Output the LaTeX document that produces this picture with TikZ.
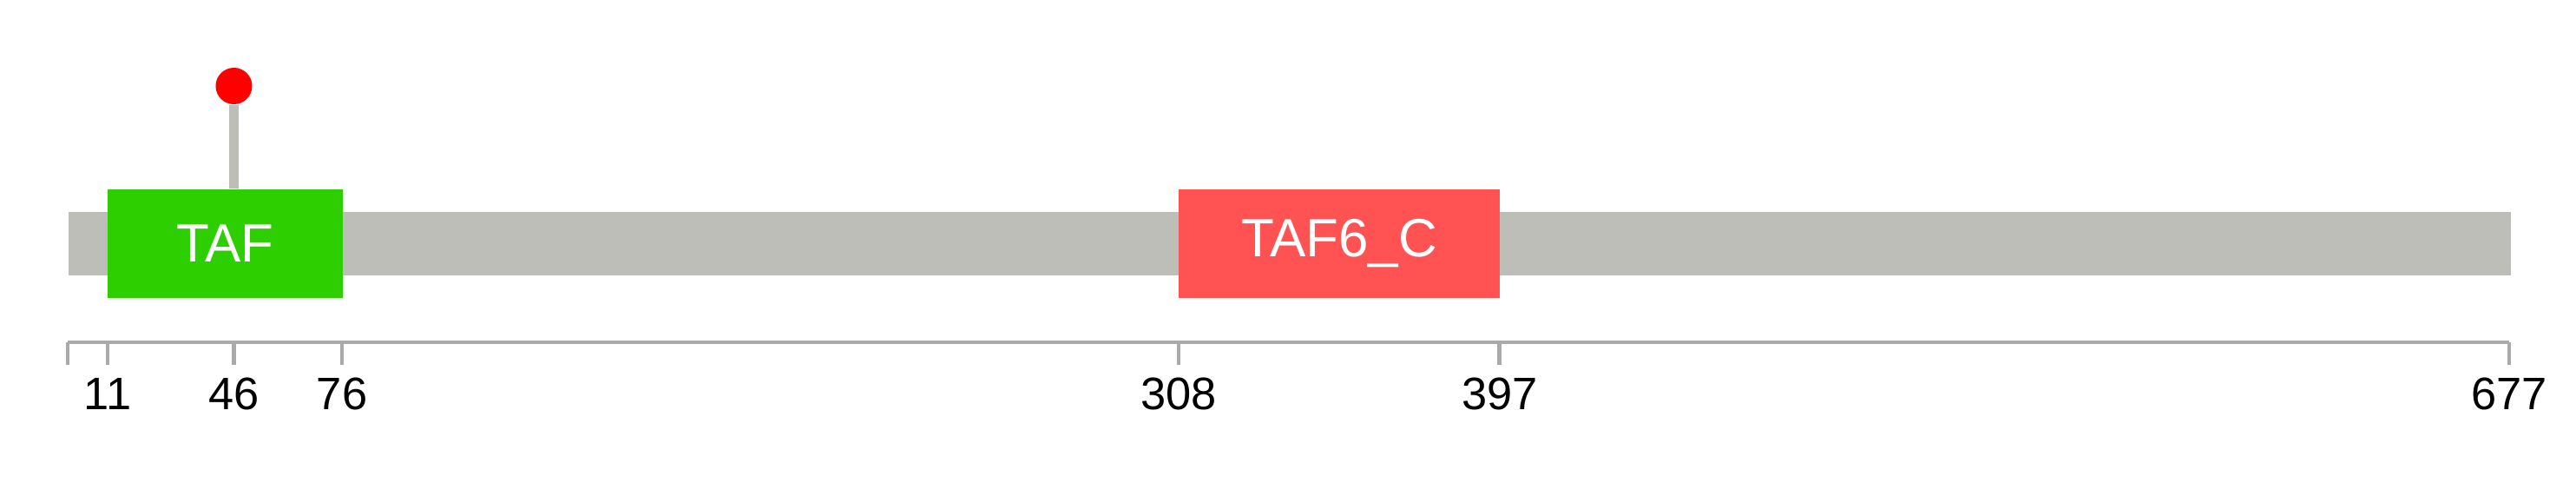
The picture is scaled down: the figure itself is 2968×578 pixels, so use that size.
\documentclass[tikz,border=0pt]{standalone}
\usepackage{fontspec}
\setmainfont{Liberation Sans}
\usepackage{tikz}
\usetikzlibrary{positioning,calc}

\definecolor{bargray}{RGB}{188,190,183}
\definecolor{axisgray}{RGB}{170,170,170}
\definecolor{tafgreen}{RGB}{46,207,0}
\definecolor{tafred}{RGB}{255,83,83}

\begin{document}
\begin{tikzpicture}[x=0.01cm, y=0.01cm,
  dom/.style={inner sep=0pt, minimum height=1.25cm, text=white,
    font=\fontsize{17.6}{17.6}\selectfont},
  axtick/.style={draw=axisgray, line width=1.3pt},
  lbl/.style={anchor=base, font=\fontsize{14.9}{14.9}\selectfont},
  stick/.style={draw=bargray, line width=3.1pt}]
\useasboundingbox (0,0) rectangle (2968,578);
% protein backbone and domains
\node[fill=bargray, inner sep=0pt, minimum width=28.13cm, minimum height=0.73cm,
  anchor=west] (bar) at (78,297.5) {};
\node[dom, fill=tafgreen, minimum width=2.705cm] (taf) at (259.3,297.5) {TAF};
\node[dom, fill=tafred, minimum width=3.70cm] (tafc) at (1543,297.5) {TAF6\_C};
% site at 46
\node[circle, fill=red, inner sep=0pt, minimum size=0.42cm] (site) at (269.5,479) {};
\draw[stick] (site |- taf.north) -- (site);
% axis
\coordinate (ax0) at (78,184);
\coordinate (ax1) at (2891,184);
\draw[axtick] (ax0) -- (ax1);
\draw[axtick] (ax0) -- ++(0,-26);
\foreach \p in {11,46,76,308,397,677} {
  \pgfmathsetmacro\xx{78.3+4.1547*\p}
  \coordinate (t\p) at (\xx,184);
  \draw[axtick] (t\p) -- ++(0,-26);
  \node[lbl] (l\p) at (\xx,107) {\p};
}
\end{tikzpicture}
\end{document}
